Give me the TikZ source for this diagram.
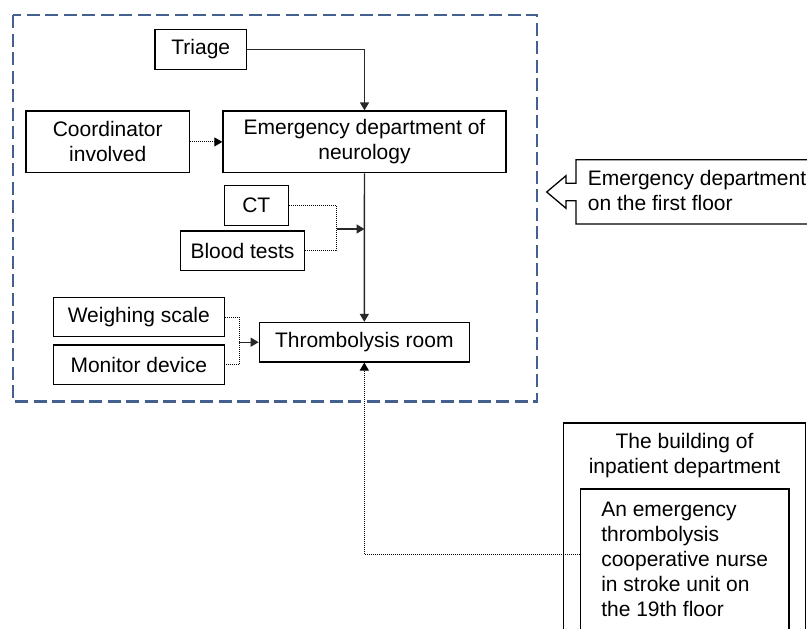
\documentclass[tikz,border=0pt]{standalone}
\usepackage{fontspec}
\setmainfont{Liberation Sans}
\usetikzlibrary{arrows.meta}
\definecolor{dashblue}{RGB}{68,96,142}
\definecolor{linegray}{RGB}{40,40,40}
\begin{document}
\begin{tikzpicture}[x=1pt, y=-1pt,
    every node/.style={font=\fontsize{21}{25}\selectfont},
    box/.style={draw, line width=1.3pt, inner sep=0pt, align=center},
    flow/.style={linegray, line width=1.4pt, -{Triangle[length=8pt,width=9pt]}},
    helper/.style={line width=1pt, dash pattern=on 1pt off 1pt},
    helperflow/.style={helper, -{Triangle[length=8pt,width=9pt]}}]
        \useasboundingbox (0,0) rectangle (807,629);
        \draw [dashblue, line width=2.7pt, dash pattern=on 13pt off 5.5pt] (13,15) rectangle (537,401.5);
        \node [box, minimum width=91.7pt, minimum height=40pt] (triage) at (200.8,49.3) {Triage};
        \node [box, minimum width=163.3pt, minimum height=61.7pt] (coord) at (107.7,141.9) {Coordinator\\involved};
        \node [box, minimum width=283pt, minimum height=61.7pt] (emerg) at (364.5,141.9) {Emergency department of\\neurology};
        \node [box, minimum width=64pt, minimum height=40pt] (ct) at (256.3,205.7) {CT};
        \node [box, minimum width=123.6pt, minimum height=39.7pt] (blood) at (242.5,250.9) {Blood tests};
        \node [box, minimum width=171pt, minimum height=39.4pt] (weigh) at (138.8,317) {Weighing scale};
        \node [box, minimum width=171pt, minimum height=39.4pt] (monitor) at (138.8,364.7) {Monitor device};
        \node [box, minimum width=210pt, minimum height=39.4pt] (throm) at (364.3,342.2) {Thrombolysis room};
        % inpatient building
        \node [draw, line width=1.3pt, anchor=north, minimum width=242.4pt, minimum height=240pt] (building) at (684.5,422.3) {};
        \node [anchor=north, align=center, inner sep=0pt] (buildtitle) at (684.5,432.7) {The building of\\inpatient department};
        \node [box, anchor=north west, minimum width=208.2pt, inner xsep=20pt, inner ysep=13pt, align=left] (nurse) at (580,488.3) {An emergency\\thrombolysis\\cooperative nurse\\in stroke unit on\\the 19th floor};
        % first floor callout
        \draw [line width=1.3pt] (830,159.7) -- (576,159.7) -- (576,183.3) -- (566,183.3) -- (566,175.7) -- (546.7,192) -- (566,208.3) -- (566,200.7) -- (576,200.7) -- (576,224) -- (830,224);
        \node [anchor=north west, align=left, inner sep=0pt] (floor) at (587.7,170.5) {Emergency department\\on the first floor};
        % connectors
        \draw [flow] (triage.east) -| (emerg.north);
        \draw [helperflow] (coord) -- (emerg);
        \draw [flow] (emerg) -- (throm);
        \coordinate (tests) at (336.7,229);
        \draw [helper] (ct.east) -| (tests) |- (blood.east);
        \draw [flow] (tests) -- (tests -| emerg.south);
        \coordinate (devices) at (239,342.2);
        \draw [helper] (weigh.east) -| (devices) |- (monitor.east);
        \draw [flow] (devices) -- (throm);
        \draw [helperflow] ([yshift=5pt]nurse.west) -| (throm.south);
      \end{tikzpicture}
\end{document}
